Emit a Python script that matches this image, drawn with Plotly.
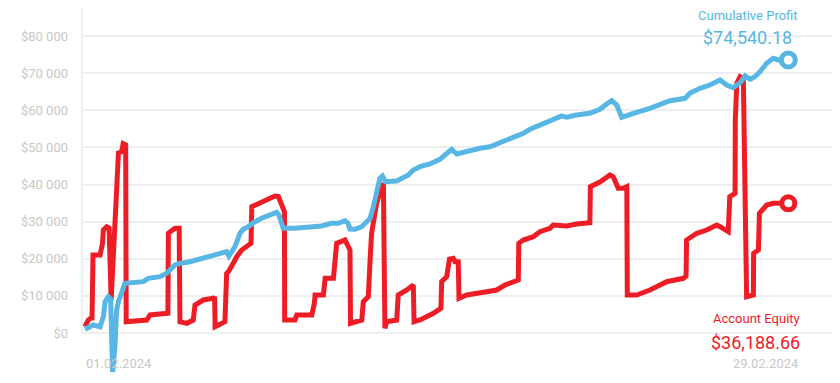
import plotly.graph_objects as go

# ---- data (day of February 2024, dollars) ----
equity_day = [1.00,1.13,1.23,1.28,1.32,1.60,1.70,1.73,1.86,1.96,
              2.04,2.19,2.26,2.33,2.46,2.52,2.62,2.64,3.46,3.59,
              4.18,4.30,4.32,4.58,4.75,4.78,5.05,5.31,5.38,5.71,
              6.11,6.16,6.18,6.57,6.64,6.71,6.90,7.04,7.24,7.50,
              7.61,7.64,7.90,8.17,8.37,8.56,8.70,8.83,8.94,8.95,
              9.36,9.43,10.03,10.13,10.16,10.49,10.56,10.89,11.02,11.35,
              11.48,11.55,11.57,11.88,12.02,12.08,12.28,12.35,12.41,12.52,
              12.61,12.81,12.88,12.94,13.01,13.41,13.47,13.81,14.07,14.10,
              14.34,14.87,15.17,15.20,15.40,15.51,15.66,15.73,15.86,15.89,
              16.20,16.99,17.39,17.72,18.25,18.27,18.45,18.85,19.11,19.51,
              19.64,20.18,20.57,21.10,21.12,21.50,21.77,21.90,22.03,22.23,
              22.43,22.57,22.59,22.96,23.49,24.16,24.82,24.93,24.95,25.36,
              25.75,26.15,26.28,26.61,26.67,26.88,26.89,26.95,27.08,27.21,
              27.34,27.61,27.62,27.81,27.85,28.14,28.40,29.00]
equity_val = [1700,3500,4040,4040,21010,21010,24240,27740,28630,28280,
              8890,25940,38520,48480,48830,51000,50700,3040,3500,4850,
              5310,5310,26860,28200,28200,3040,2610,3500,7540,8890,
              9350,9780,1700,3040,16080,16510,18770,20550,22360,23700,
              24160,34020,34940,35820,36280,36900,36770,34940,32670,3500,
              3500,4850,4850,8000,10240,10240,14730,14730,24160,25050,
              23700,22360,2610,3040,3500,8430,9780,19660,26860,31330,
              34940,39410,40320,1270,3040,3500,10240,11580,12930,3040,
              3500,5310,6650,13820,15170,19930,20120,19210,19210,9350,
              10240,11120,11580,12930,14280,24160,25050,25940,27290,28200,
              29090,28820,29360,29710,39410,40670,42100,42560,42100,38980,
              38980,39410,10240,10240,11580,13820,14730,15350,25050,26860,
              27740,29090,28630,27290,36710,37630,57370,67260,69040,68610,
              9780,10240,21470,22360,32240,34480,34940,34940]

profit_day = [1.00,1.33,1.60,1.73,1.80,1.93,2.02,2.06,2.10,2.19,
              2.26,2.33,2.43,2.52,2.59,3.32,3.52,3.99,4.25,4.58,
              4.78,5.18,5.85,6.31,6.64,6.73,6.97,7.17,7.30,7.50,
              7.70,8.03,8.30,8.63,8.72,8.89,9.36,10.03,10.42,10.82,
              11.08,11.35,11.46,11.55,11.75,12.02,12.22,12.35,12.48,12.61,
              12.74,12.84,12.96,13.41,13.67,13.87,14.07,14.34,14.73,15.13,
              15.33,15.60,15.80,16.20,16.73,17.12,17.52,18.05,18.45,18.72,
              19.25,19.65,19.98,20.18,20.57,21.10,21.50,21.77,21.97,22.17,
              22.37,22.83,23.49,24.29,24.89,25.08,25.48,25.88,26.28,26.55,
              26.81,27.08,27.28,27.48,27.67,27.87,28.14,28.40,28.60,29.00]
profit_val = [1000,2150,1700,4390,8430,9780,9160,810,-10500,-3690,
              6200,8430,10690,12470,13390,13820,14730,15170,16080,18320,
              18770,19210,20550,21470,21900,20740,23250,26860,27930,28630,
              29710,30900,31780,32510,31780,28200,28200,28470,28820,29550,
              29550,30250,29710,28010,27930,28630,29980,30900,34020,37630,
              41670,42290,40750,40940,41670,42560,43900,44800,45520,46790,
              47950,49480,48220,49020,49750,50180,51260,52710,53790,54870,
              56480,57560,58450,58100,58720,59180,60260,61680,62570,61410,
              58100,59180,60520,62570,63220,64570,65910,66800,68150,66800,
              66070,67420,69230,68340,69040,70380,72650,73990,73540,73540]

y_ticks = [0, 10000, 20000, 30000, 40000, 50000, 60000, 70000, 80000]
y_tick_text = ["$0", "$10 000", "$20 000", "$30 000", "$40 000",
               "$50 000", "$60 000", "$70 000", "$80 000"]

start_label = "01.02.2024"
end_label = "29.02.2024"
profit_title, profit_total = "Cumulative Profit", "$74,540.18"
equity_title, equity_total = "Account Equity", "$36,188.66"

RED = "#EE1C25"
BLUE = "#58B6E4"
GRAY_TXT = "#C8C8C8"
GRID = "#EFEFEF"
FONT = "Roboto"

fig = go.Figure()
fig.add_trace(go.Scatter(x=equity_day, y=equity_val, mode="lines",
                         line=dict(color=RED, width=5), hoverinfo="skip"))
fig.add_trace(go.Scatter(x=profit_day, y=profit_val, mode="lines",
                         line=dict(color=BLUE, width=5), hoverinfo="skip"))
fig.add_trace(go.Scatter(x=[equity_day[-1]], y=[equity_val[-1]], mode="markers",
                         marker=dict(size=13, color="white", line=dict(color=RED, width=5)),
                         hoverinfo="skip"))
fig.add_trace(go.Scatter(x=[profit_day[-1]], y=[profit_val[-1]], mode="markers",
                         marker=dict(size=14, color="white", line=dict(color=BLUE, width=5)),
                         hoverinfo="skip"))

# the page body has an 8px margin, so the figure sits at (8, 8) on the page
OFF = 8
W, H = 840 - OFF, 383 - OFF
PLOT_LEFT = 82            # page x of the plot's left edge
L = PLOT_LEFT - OFF

def px(x):   # page x -> paper x
    return (x - PLOT_LEFT) / (W - L)
def py(y):   # page y -> paper y
    return 1 - (y - OFF) / H

ann = [
    dict(text=profit_title, x=px(747.5), y=py(15), xanchor="center", yanchor="middle",
         font=dict(size=13, color=BLUE, family=FONT)),
    dict(text=profit_total, x=px(747.5), y=py(37), xanchor="center", yanchor="middle",
         font=dict(size=18, color=BLUE, family=FONT)),
    dict(text=equity_title, x=px(802), y=py(318), xanchor="right", yanchor="middle",
         font=dict(size=13, color=RED, family=FONT)),
    dict(text=equity_total, x=px(802), y=py(342), xanchor="right", yanchor="middle",
         font=dict(size=18, color=RED, family=FONT)),
    dict(text=end_label, x=px(801), y=py(363), xanchor="right", yanchor="middle",
         font=dict(size=13, color=GRAY_TXT, family=FONT)),
    dict(text=start_label, x=px(84), y=py(363), xanchor="left", yanchor="middle",
         font=dict(size=13, color=GRAY_TXT, family=FONT)),
]
for a in ann:
    a.update(xref="paper", yref="paper", showarrow=False)

Y_TOP, Y_BOT = 87542, -13468

fig.update_layout(
    width=W, height=H,
    margin=dict(l=L, r=0, t=0, b=0, pad=0),
    paper_bgcolor="white", plot_bgcolor="white",
    showlegend=False,
    font=dict(family=FONT),
    annotations=ann,
    shapes=[dict(type="line", xref="paper", yref="y", x0=0, x1=0, y0=0, y1=Y_TOP,
                 line=dict(color=GRID, width=2), layer="below")],
)
fig.update_xaxes(range=[0.8806, 31.058], visible=False, showgrid=False, zeroline=False)
fig.update_yaxes(range=[Y_BOT, Y_TOP], tickvals=y_ticks, ticktext=y_tick_text,
                 showgrid=True, gridcolor=GRID, gridwidth=2, zeroline=False,
                 showline=False, ticks="", ticklabelstandoff=13,
                 tickfont=dict(size=13, color=GRAY_TXT, family=FONT))

fig.write_html("out.html")
